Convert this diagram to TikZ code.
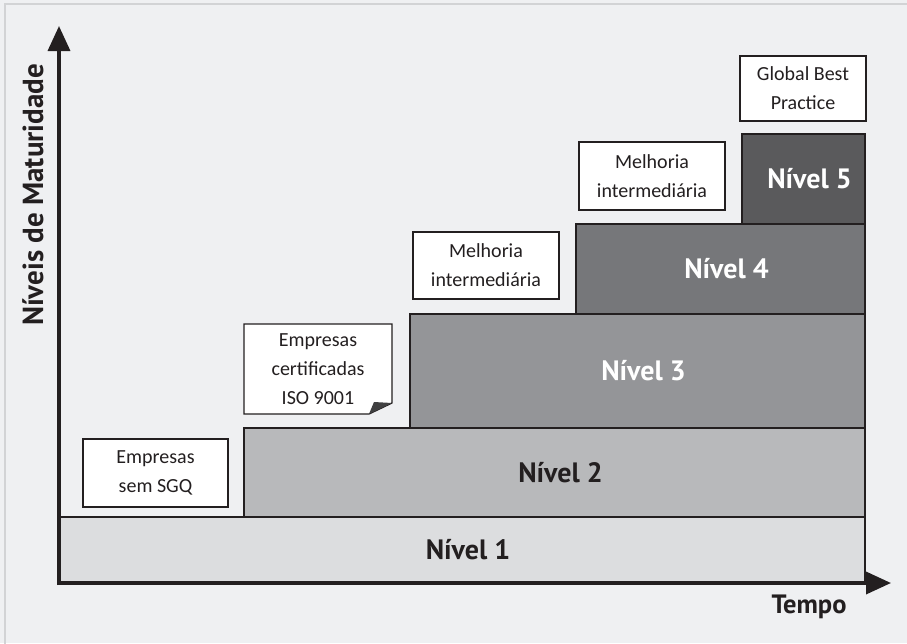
\documentclass[tikz,border=0pt]{standalone}
\usepackage{fontspec}
\setmainfont{Carlito}
\newfontfamily\hd{PT Sans}
\usetikzlibrary{arrows.meta}
\definecolor{bg}{HTML}{EFF0F2}
\definecolor{frame}{HTML}{D2D3D5}
\definecolor{ink}{HTML}{231F20}
\definecolor{lone}{HTML}{DCDDDF}
\definecolor{ltwo}{HTML}{B8B9BB}
\definecolor{lthree}{HTML}{949598}
\definecolor{lfour}{HTML}{76777A}
\definecolor{lfive}{HTML}{5A5A5C}
\definecolor{fold}{HTML}{404041}
\newcommand{\lvltext}[1]{\hspace*{12pt}#1}
\tikzset{
  lvl/.style={draw=ink, line width=1.3pt, rectangle, inner sep=0pt, font=\hd\bfseries\fontsize{28}{30}\selectfont},
  note/.style={draw=ink, fill=white, line width=1.3pt, rectangle, inner sep=0pt, align=center, font=\fontsize{20}{29}\selectfont, text=ink},
  notetext/.style={inner sep=0pt, align=center, font=\fontsize{20}{29}\selectfont, text=ink},
  axis/.style={draw=ink, line width=3.5pt, -{Triangle[length=25pt,width=22pt]}},
  axlabel/.style={font=\hd\bfseries\fontsize{29}{31}\selectfont, text=ink}
}
\begin{document}
\begin{tikzpicture}[x=1pt,y=-1pt]
\useasboundingbox (0,0) rectangle (907,643);
\fill[bg] (0,0) rectangle (907,643);
\draw[frame, line width=1.5pt] (5,650) -- (5,4) -- (912,4);
% levels
\node[lvl, fill=lone, text=ink, minimum width=806pt, minimum height=66pt] (n1) at (462,550) {\lvltext{Nível 1}};
\node[lvl, fill=ltwo, text=ink, minimum width=621pt, minimum height=89pt] (n2) at (554.5,472.5) {\lvltext{Nível 2}};
\node[lvl, fill=lthree, text=white, minimum width=455pt, minimum height=114pt] (n3) at (637.5,371) {\lvltext{Nível 3}};
\node[lvl, fill=lfour, text=white, minimum width=289pt, minimum height=90pt] (n4) at (720.5,269) {\lvltext{Nível 4}};
\node[lvl, fill=lfive, text=white, minimum width=123pt, minimum height=90pt] (n5) at (803.5,179) {\lvltext{Nível 5}};
% notes
\node[note, minimum width=145pt, minimum height=68pt] (b1) at (155.5,473) {Empresas\\sem SGQ};
\node[note, minimum width=146pt, minimum height=67pt] (b3) at (486,265.5) {Melhoria\\intermediária};
\node[note, minimum width=146pt, minimum height=68pt] (b4) at (652,176) {Melhoria\\intermediária};
\node[note, minimum width=126pt, minimum height=65pt] (b5) at (803,88.5) {Global Best\\Practice};
% note with folded corner
\coordinate (b2nw) at (244,324);
\coordinate (b2se) at (392,414);
\coordinate (b2ne) at (b2se |- b2nw);
\coordinate (b2sw) at (b2nw |- b2se);
\coordinate (b2r) at (392,403);
\coordinate (b2b) at (369,414);
\coordinate (b2i) at (374,402);
\fill[white] (b2nw) -- (b2ne) -- (b2r) -- (b2b) -- (b2sw) -- cycle;
\node[notetext] (b2) at (318,369) {Empresas\\certificadas\\ISO 9001};
\draw[ink, line width=1.3pt, line join=miter] (b2nw) -- (b2ne) -- (b2r) -- (b2b) -- (b2sw) -- cycle;
\fill[fold] (b2r) -- (b2b) -- (b2i) -- cycle;
% axes
\coordinate (o) at (59,585);
\coordinate (ytip) at (59,26);
\coordinate (xo) at (57.25,583);
\coordinate (xtip) at (891,583);
\draw[axis] (o) -- (ytip);
\draw[axis] (xo) -- (xtip);
\node[axlabel, rotate=90] (ylab) at (33,195) {Níveis de Maturidade};
\node[axlabel, font=\hd\bfseries\fontsize{26.5}{29}\selectfont] (xlab) at (809,607) {Tempo};
\end{tikzpicture}
\end{document}
